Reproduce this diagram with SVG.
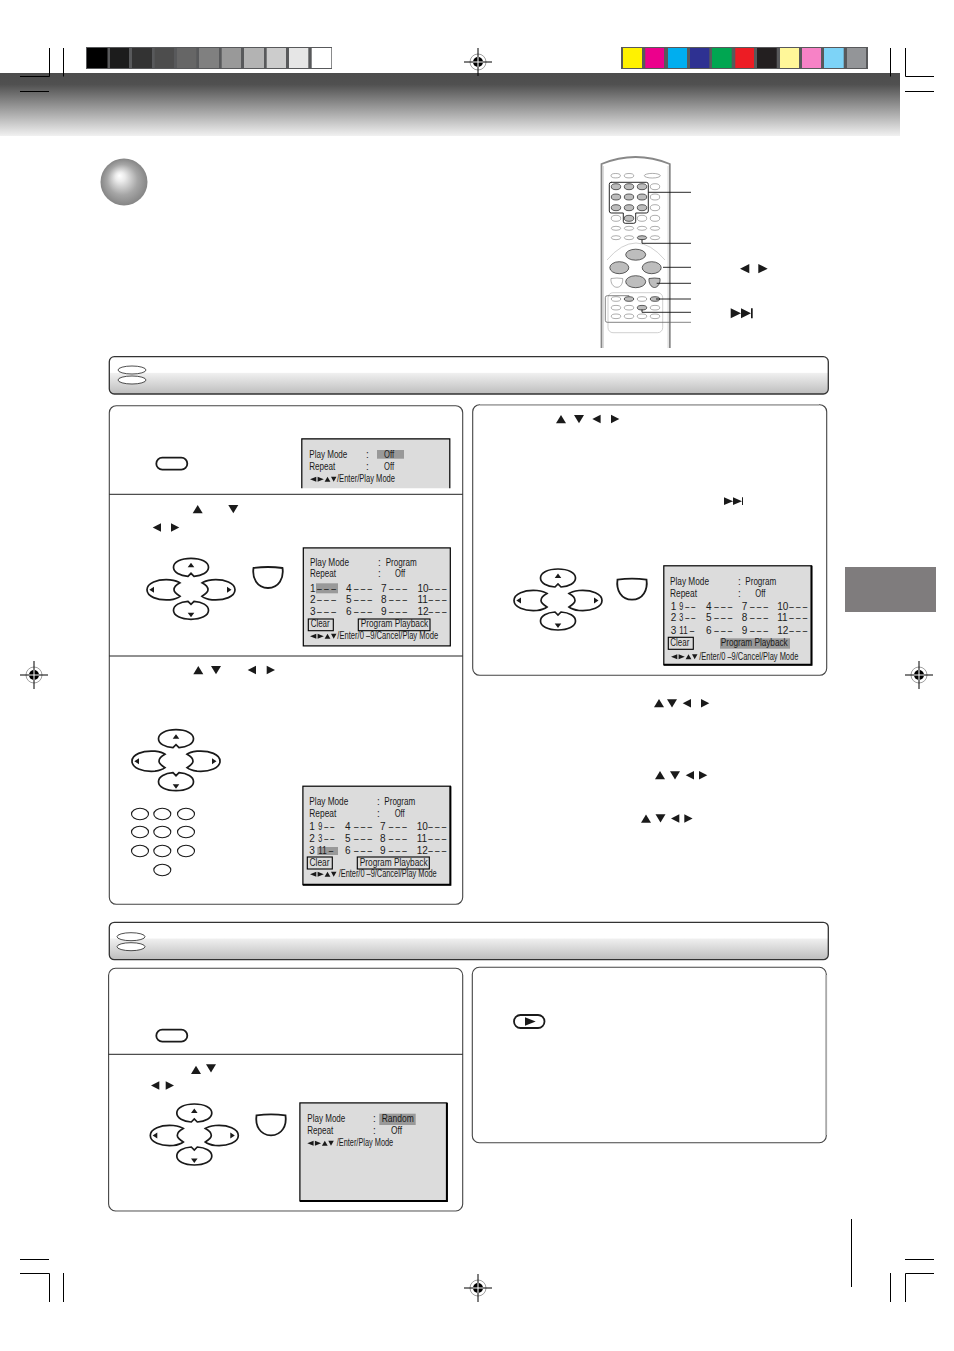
<svg xmlns="http://www.w3.org/2000/svg" width="954" height="1351" viewBox="0 0 954 1351">
<style>
text{font-family:"Liberation Sans",Arial,sans-serif;font-size:10px;fill:#1a1a1a}
.crop{stroke:#000;stroke-width:1;fill:none}
.panel{fill:#fff;stroke:#444;stroke-width:1.1}
.edge{fill:none;stroke:#aaa;stroke-width:1.6}
.div{stroke:#222;stroke-width:1;fill:none}
.bar{fill:url(#barGrad);stroke:#333;stroke-width:1.3}
.barOval{fill:#fff;stroke:#222;stroke-width:.8}
.screen{fill:#dcdcdc;stroke:#000;stroke-width:1.2}
.heavy{fill:none;stroke:#000;stroke-width:2}
.hl{fill:#999}
.box{fill:none;stroke:#000;stroke-width:1.1}
.tri{fill:#1a1a1a}
.btn{fill:#fff;stroke:#1a1a1a;stroke-width:1.8}
.pad{fill:#fff;stroke:#1a1a1a;stroke-width:1.7}
.num{fill:#fff;stroke:#1a1a1a;stroke-width:1.1}
.rw{fill:#fff;stroke:#777;stroke-width:.6}
.rg{fill:#bdbdbd;stroke:#222;stroke-width:.7}
.lead{stroke:#111;stroke-width:.9;fill:none}
.lead2{stroke:#666;stroke-width:.8;fill:none}
</style>
<defs>
<linearGradient id="bandGrad" x1="0" y1="0" x2="0" y2="1">
<stop offset="0" stop-color="#4d4d4d"/><stop offset=".18" stop-color="#505050"/><stop offset=".5" stop-color="#8f8f8f"/><stop offset="1" stop-color="#f1f1f1"/>
</linearGradient>
<linearGradient id="barGrad" x1="0" y1="0" x2="0" y2="1">
<stop offset="0" stop-color="#fff"/><stop offset=".42" stop-color="#fff"/><stop offset=".45" stop-color="#efefef"/><stop offset="1" stop-color="#bdbdbd"/>
</linearGradient>
<radialGradient id="ball" cx=".5" cy=".5" r=".5" fx=".4" fy=".36">
<stop offset="0" stop-color="#fff"/><stop offset=".2" stop-color="#ececec"/><stop offset=".65" stop-color="#a6a6a6"/><stop offset="1" stop-color="#858585"/>
</radialGradient>
<g id="reg">
<circle r="8" fill="#fff" stroke="#888" stroke-width=".8"/>
<circle r="5" fill="#000"/>
<path d="M-14 0H14M0-14V14" stroke="#000" stroke-width="1" fill="none"/>
<path d="M-5 0H5M0-5V5" stroke="#fff" stroke-width="1" fill="none"/>
</g>
<g id="dpad">
<path class="pad" d="M-3-13C-11-13.5-17.5-17-17.5-22C-17.5-27.5-10-31 0-31C10-31 17.5-27.5 17.5-22C17.5-17 11-13.5 3-13L0-16Z"/>
<path class="pad" d="M-3 12C-11 12.5-17.5 16-17.5 21C-17.5 26.5-10 30 0 30C10 30 17.5 26.5 17.5 21C17.5 16 11 12.5 3 12L0 15Z"/>
<path class="pad" d="M-21-9.5C-34-10.5-44-6-44 .5C-44 7-34 11.5-21 10.5C-17 10-13.500 9-11 7C-15 4.500-17 2.500-17 .5C-17-1.500-15-4.500-11-6.500C-13.500-8.500-17-9-21-9.500Z"/>
<path class="pad" d="M21-9.5C34-10.5 44-6 44 .5C44 7 34 11.5 21 10.5C17 10 13.500 9 11 7C15 4.500 17 2.500 17 .5C17-1.500 15-4.500 11-6.500C13.500-8.500 17-9 21-9.500Z"/>
<path d="M-3.300-22H3.300L0-26.500ZM-3.300 23.500H3.300L0 28ZM-37-2.500V3.500L-41.700 .5ZM36-2.500V3.500L40.500 .5Z" fill="#1a1a1a"/>
</g>
<path id="enter" class="btn" d="M-14.500 1.300Q0-.7 14.500 1.300C16 11.500 11 21.300 0 21.300C-11 21.300-16 11.500-14.500 1.300Z"/>
<g id="legend" class="tri">
<path d="M0 2.300 6.300-.2V4.800ZM7.600-.2 13.800 2.300 7.600 4.800ZM14.600 4.800 17.500-.2 20.400 4.800ZM21-.2H26.500L23.700 4.800Z"/>
</g>
<path id="up" d="M0 0 5-8.300 10 0Z"/>
<path id="down" d="M0 0H10L5 8.300Z"/>
<path id="left" d="M8.300-4.200V4.200L0 0Z"/>
<path id="right" d="M0-4.200V4.200L8.300 0Z"/>
</defs>
<rect width="954" height="1351" fill="#fff"/>

<g id="header-band"><rect x="0" y="73" width="900" height="63" fill="url(#bandGrad)"/></g>

<g id="gray-scale">
<rect x="86" y="47" width="246" height="22" fill="#58595b"/>
<rect x="87" y="48" width="20.500" height="20" fill="#000"/>
<rect x="110" y="48" width="19" height="20" fill="#1c1c1c"/>
<rect x="132" y="48" width="20" height="20" fill="#333"/>
<rect x="154.700" y="48" width="19.300" height="20" fill="#4d4d4d"/>
<rect x="177" y="48" width="19.300" height="20" fill="#666"/>
<rect x="199" y="48" width="20" height="20" fill="#808080"/>
<rect x="221.700" y="48" width="19.300" height="20" fill="#999"/>
<rect x="244" y="48" width="20" height="20" fill="#b3b3b3"/>
<rect x="266.700" y="48" width="19.300" height="20" fill="#ccc"/>
<rect x="289" y="48" width="19.300" height="20" fill="#e6e6e6"/>
<rect x="311.700" y="48" width="19.600" height="20" fill="#fff"/>
</g>
<g id="color-scale">
<rect x="621" y="47" width="247" height="22" fill="#58595b"/>
<rect x="623" y="48" width="19" height="20" fill="#fff200"/>
<rect x="645.300" y="48" width="18.700" height="20" fill="#ec008c"/>
<rect x="668" y="48" width="19" height="20" fill="#00aeef"/>
<rect x="690" y="48" width="19.300" height="20" fill="#2e3192"/>
<rect x="712" y="48" width="19.700" height="20" fill="#00a651"/>
<rect x="735.300" y="48" width="18.700" height="20" fill="#ed1c24"/>
<rect x="757" y="48" width="19.700" height="20" fill="#231f20"/>
<rect x="780" y="48" width="19" height="20" fill="#fff799"/>
<rect x="802" y="48" width="19" height="20" fill="#f782c6"/>
<rect x="824" y="48" width="19.700" height="20" fill="#7dd3f7"/>
<rect x="847" y="48" width="19" height="20" fill="#939598"/>
</g>

<g id="crop-marks">
<path class="crop" d="M49.500 48V76.500H20M63.500 48V76.500M20 91.500H49M890.500 48V76.500M905.500 48V76.500H934M905 91.500H934"/>
<path class="crop" d="M20 1259.500H49M20 1273.500H49.500V1302M63.500 1273V1302M905 1259.500H934M934 1273.500H905.500V1302M890.500 1273V1302"/>
<path class="crop" d="M851.500 1219V1287"/>
</g>
<use href="#reg" x="478" y="62"/>
<use href="#reg" x="34" y="675"/>
<use href="#reg" x="919" y="675"/>
<use href="#reg" x="478" y="1288"/>

<g id="side-tab"><rect x="845" y="567" width="91" height="45" fill="#7f7c7d"/></g>
<g id="ball-bullet"><circle cx="124" cy="182" r="23.500" fill="url(#ball)"/></g>

<g id="remote">
<path d="M601.500 348V164Q635.500 150 669.800 164V348" fill="#fff" stroke="#888" stroke-width="1.800"/>
<path d="M603.500 348V166M668 348V166" stroke="#ccc" stroke-width=".7" fill="none"/>
<path d="M607 260Q636 226 665 260" fill="none" stroke="#bbb" stroke-width=".7"/>
<rect x="608" y="292.700" width="54.700" height="40" rx="5" fill="#fff" stroke="#bbb" stroke-width=".7"/>
<ellipse class="rw" cx="615.700" cy="175.700" rx="4.700" ry="2.200"/><ellipse class="rw" cx="629" cy="175.700" rx="4.700" ry="2.200"/><ellipse class="rw" cx="652.300" cy="175.700" rx="8" ry="2.300"/>
<ellipse class="rg" cx="616" cy="186.700" rx="4.700" ry="3"/><ellipse class="rg" cx="629" cy="186.700" rx="4.700" ry="3"/><ellipse class="rg" cx="642" cy="186.700" rx="4.700" ry="3"/><ellipse class="rw" cx="655" cy="186.700" rx="4.700" ry="3"/>
<ellipse class="rg" cx="616" cy="197" rx="4.700" ry="3"/><ellipse class="rg" cx="629" cy="197" rx="4.700" ry="3"/><ellipse class="rg" cx="642" cy="197" rx="4.700" ry="3"/><ellipse class="rw" cx="655" cy="197" rx="4.700" ry="3"/>
<ellipse class="rg" cx="616" cy="207.700" rx="4.700" ry="3"/><ellipse class="rg" cx="629" cy="207.700" rx="4.700" ry="3"/><ellipse class="rg" cx="642" cy="207.700" rx="4.700" ry="3"/><ellipse class="rw" cx="655" cy="207.700" rx="4.700" ry="3"/>
<ellipse class="rw" cx="616" cy="218.300" rx="4.700" ry="3"/><ellipse class="rg" cx="629" cy="218.300" rx="4.700" ry="3"/><ellipse class="rw" cx="642" cy="218.300" rx="4.700" ry="3"/><ellipse class="rw" cx="655" cy="218.300" rx="4.700" ry="3"/>
<ellipse class="rw" cx="616" cy="228.300" rx="4.700" ry="2"/><ellipse class="rw" cx="629" cy="228.300" rx="4.700" ry="2"/><ellipse class="rw" cx="642" cy="228.300" rx="4.700" ry="2"/><ellipse class="rw" cx="655" cy="228.300" rx="4.700" ry="2"/>
<ellipse class="rw" cx="616" cy="237.700" rx="4.700" ry="2"/><ellipse class="rw" cx="629" cy="237.700" rx="4.700" ry="2"/><ellipse class="rg" cx="642" cy="237.700" rx="4.700" ry="2"/><ellipse class="rw" cx="655" cy="237.700" rx="4.700" ry="2"/>
<ellipse class="rg" cx="635.700" cy="254.700" rx="10" ry="5.500"/>
<ellipse class="rg" cx="619.300" cy="267.700" rx="9.500" ry="6"/><ellipse class="rg" cx="651.700" cy="267.700" rx="9.500" ry="6"/>
<ellipse class="rg" cx="635.700" cy="281.700" rx="10" ry="6"/>
<path class="rw" d="M611 278.500Q617 277.500 622.700 278.500C623 283 621 287.300 617 287.300C613 287.300 610.500 283 611 278.500Z"/>
<path class="rg" d="M649 278.500Q654.500 277.500 660 278.500C660.500 283 658 287.500 654.500 287.500C651 287.500 648.500 283 649 278.500Z"/>
<ellipse class="rw" cx="616" cy="299" rx="4.700" ry="2.300"/><ellipse class="rg" cx="629" cy="299" rx="4.700" ry="2.300"/><ellipse class="rw" cx="642" cy="299" rx="4.700" ry="2.300"/><ellipse class="rg" cx="655" cy="299" rx="4.700" ry="2.300"/>
<ellipse class="rw" cx="616" cy="307.700" rx="4.700" ry="2.300"/><ellipse class="rw" cx="629" cy="307.700" rx="4.700" ry="2.300"/><ellipse class="rg" cx="642" cy="307.700" rx="4.700" ry="2.300"/><ellipse class="rw" cx="655" cy="307.700" rx="4.700" ry="2.300"/>
<ellipse class="rw" cx="616" cy="316.300" rx="4.700" ry="2.300"/><ellipse class="rw" cx="629" cy="316.300" rx="4.700" ry="2.300"/><ellipse class="rw" cx="642" cy="316.300" rx="4.700" ry="2.300"/><ellipse class="rw" cx="655" cy="316.300" rx="4.700" ry="2.300"/>
</g>
<g id="remote-connectors">
<path class="lead" d="M611 182.300H646.300Q648.300 182.300 648.300 184.300V211Q648.300 213 646.300 213H635.700V221.300Q635.700 223.300 633.700 223.300H625.300Q623.300 223.300 623.300 221.300V213H611.300Q609.300 213 609.300 211V184.300Q609.300 182.300 611.300 182.300Z"/>
<path class="lead" d="M648.300 192.300H691M642 239.500V243.300H691M663 267.300H691M656.700 283.300H691M656 299H691M642 309.500V312.300H691"/>
<path class="lead2" d="M629 297V295.700H607.300Q605.300 295.700 605.300 297.700V320.300Q605.300 322.300 607.300 322.300H691"/>
</g>
<g id="remote-symbols" class="tri">
<path d="M749.300 264V273.300L740 268.700ZM758.300 264V273.300L767.700 268.700Z"/>
<path d="M730.700 308.300V318.300L741 313.300ZM741 308.300V318.300L751 313.300ZM751 308.300H752.700V318.300H751Z"/>
</g>

<g id="section-bar-1">
<rect class="bar" x="109.300" y="356.700" width="719" height="37.300" rx="5"/>
<ellipse class="barOval" cx="132" cy="370" rx="14" ry="4"/><ellipse class="barOval" cx="132" cy="380" rx="14" ry="4"/>
</g>

<g id="panel-program-left">
<rect class="panel" x="109.300" y="405.700" width="353.400" height="498.600" rx="7"/>
<path class="div" d="M109.300 494.300H462.700M109.300 656H462.700"/>
</g>

<g id="step-1">
<rect class="btn" x="156.300" y="457.700" width="31" height="12" rx="6"/>
<path d="M301.800 488.300V438.800H449.800V488.300" fill="#dcdcdc" stroke="#000" stroke-width="1.200"/>
<rect class="hl" x="377" y="450" width="27" height="8.700"/>
<text x="309.300" y="457.500" textLength="38" lengthAdjust="spacingAndGlyphs">Play Mode</text><text x="366" y="457.500">:</text><text x="384" y="457.500" textLength="10" lengthAdjust="spacingAndGlyphs">Off</text>
<text x="309.300" y="470" textLength="26" lengthAdjust="spacingAndGlyphs">Repeat</text><text x="366" y="470">:</text><text x="384" y="470" textLength="10" lengthAdjust="spacingAndGlyphs">Off</text>
<use href="#legend" x="310" y="477"/><text x="337" y="482" textLength="58" lengthAdjust="spacingAndGlyphs">/Enter/Play Mode</text>
</g>

<g id="step-2">
<use href="#up" class="tri" x="192.700" y="513.300"/><use href="#down" class="tri" x="228.300" y="505"/>
<use href="#left" class="tri" x="152.700" y="527.500"/><use href="#right" class="tri" x="171" y="527.500"/>
<use href="#dpad" x="191" y="589.300"/>
<use href="#enter" x="268" y="566.700"/>
<rect class="screen" x="303.300" y="547.900" width="147" height="98"/>
<rect class="hl" x="316" y="583.300" width="22" height="10"/>
<text x="310" y="565.700" textLength="39" lengthAdjust="spacingAndGlyphs">Play Mode</text><text x="378" y="565.700">:</text><text x="385.700" y="565.700" textLength="31" lengthAdjust="spacingAndGlyphs">Program</text>
<text x="310" y="577" textLength="26" lengthAdjust="spacingAndGlyphs">Repeat</text><text x="378" y="577">:</text><text x="395" y="577" textLength="10" lengthAdjust="spacingAndGlyphs">Off</text>
<text x="310" y="591.700">1</text><text x="317" y="591.700" textLength="19" lengthAdjust="spacingAndGlyphs">– – –</text>
<text x="346" y="591.700">4</text><text x="354" y="591.700" textLength="18" lengthAdjust="spacingAndGlyphs">– – –</text>
<text x="381" y="591.700">7</text><text x="389" y="591.700" textLength="18" lengthAdjust="spacingAndGlyphs">– – –</text>
<text x="417.500" y="591.700">10</text><text x="428.500" y="591.700" textLength="18" lengthAdjust="spacingAndGlyphs">– – –</text>
<text x="310" y="603.300">2</text><text x="317" y="603.300" textLength="19" lengthAdjust="spacingAndGlyphs">– – –</text>
<text x="346" y="603.300">5</text><text x="354" y="603.300" textLength="18" lengthAdjust="spacingAndGlyphs">– – –</text>
<text x="381" y="603.300">8</text><text x="389" y="603.300" textLength="18" lengthAdjust="spacingAndGlyphs">– – –</text>
<text x="417.500" y="603.300">11</text><text x="428.500" y="603.300" textLength="18" lengthAdjust="spacingAndGlyphs">– – –</text>
<text x="310" y="615">3</text><text x="317" y="615" textLength="19" lengthAdjust="spacingAndGlyphs">– – –</text>
<text x="346" y="615">6</text><text x="354" y="615" textLength="18" lengthAdjust="spacingAndGlyphs">– – –</text>
<text x="381" y="615">9</text><text x="389" y="615" textLength="18" lengthAdjust="spacingAndGlyphs">– – –</text>
<text x="417.500" y="615">12</text><text x="428.500" y="615" textLength="18" lengthAdjust="spacingAndGlyphs">– – –</text>
<rect class="box" x="308.300" y="619" width="25" height="11.700"/><text x="310.700" y="627" textLength="19" lengthAdjust="spacingAndGlyphs">Clear</text>
<rect class="box" x="358.300" y="619" width="71.700" height="11.700"/><text x="360.700" y="627.300" textLength="67.500" lengthAdjust="spacingAndGlyphs">Program Playback</text>
<use href="#legend" x="310" y="634"/><text x="337.300" y="639" textLength="101" lengthAdjust="spacingAndGlyphs">/Enter/0 –9/Cancel/Play Mode</text>
</g>

<g id="step-3">
<use href="#up" class="tri" x="193.300" y="674.300"/><use href="#down" class="tri" x="211" y="666"/>
<use href="#left" class="tri" x="247.700" y="670"/><use href="#right" class="tri" x="266.700" y="670"/>
<use href="#dpad" x="176" y="760.700"/>
<ellipse class="num" cx="140" cy="814" rx="8.500" ry="5.700"/><ellipse class="num" cx="162.300" cy="814" rx="8.500" ry="5.700"/><ellipse class="num" cx="186" cy="814" rx="8.500" ry="5.700"/>
<ellipse class="num" cx="140" cy="832" rx="8.500" ry="5.700"/><ellipse class="num" cx="162.300" cy="832" rx="8.500" ry="5.700"/><ellipse class="num" cx="186" cy="832" rx="8.500" ry="5.700"/>
<ellipse class="num" cx="140" cy="851" rx="8.500" ry="5.700"/><ellipse class="num" cx="162.300" cy="851" rx="8.500" ry="5.700"/><ellipse class="num" cx="186" cy="851" rx="8.500" ry="5.700"/>
<ellipse class="num" cx="162.300" cy="870" rx="8.500" ry="5.700"/>
<rect class="screen" x="302.900" y="786.200" width="147.500" height="98.500"/>
<path class="heavy" d="M450.400 786.200V884.700H302.900"/>
<rect class="hl" x="317.300" y="847" width="20.700" height="8"/>
<text x="309.300" y="805" textLength="39" lengthAdjust="spacingAndGlyphs">Play Mode</text><text x="377" y="805">:</text><text x="384.300" y="805" textLength="31" lengthAdjust="spacingAndGlyphs">Program</text>
<text x="309.300" y="817" textLength="27" lengthAdjust="spacingAndGlyphs">Repeat</text><text x="377" y="817">:</text><text x="394.700" y="817" textLength="10" lengthAdjust="spacingAndGlyphs">Off</text>
<text x="309.300" y="830">1</text><text x="318.300" y="830" textLength="16" lengthAdjust="spacingAndGlyphs">9 – –</text>
<text x="345" y="830">4</text><text x="354" y="830" textLength="18" lengthAdjust="spacingAndGlyphs">– – –</text>
<text x="380" y="830">7</text><text x="388.700" y="830" textLength="18" lengthAdjust="spacingAndGlyphs">– – –</text>
<text x="416.700" y="830">10</text><text x="428.300" y="830" textLength="18" lengthAdjust="spacingAndGlyphs">– – –</text>
<text x="309.300" y="841.500">2</text><text x="318.300" y="841.500" textLength="16" lengthAdjust="spacingAndGlyphs">3 – –</text>
<text x="345" y="841.500">5</text><text x="354" y="841.500" textLength="18" lengthAdjust="spacingAndGlyphs">– – –</text>
<text x="380" y="841.500">8</text><text x="388.700" y="841.500" textLength="18" lengthAdjust="spacingAndGlyphs">– – –</text>
<text x="416.700" y="841.500">11</text><text x="428.300" y="841.500" textLength="18" lengthAdjust="spacingAndGlyphs">– – –</text>
<text x="309.300" y="854">3</text><text x="318.300" y="854" textLength="15" lengthAdjust="spacingAndGlyphs">11 –</text>
<text x="345" y="854">6</text><text x="354" y="854" textLength="18" lengthAdjust="spacingAndGlyphs">– – –</text>
<text x="380" y="854">9</text><text x="388.700" y="854" textLength="18" lengthAdjust="spacingAndGlyphs">– – –</text>
<text x="416.700" y="854">12</text><text x="428.300" y="854" textLength="18" lengthAdjust="spacingAndGlyphs">– – –</text>
<rect class="box" x="307.300" y="857" width="25" height="12"/><text x="309.500" y="865.500" textLength="20" lengthAdjust="spacingAndGlyphs">Clear</text>
<rect class="box" x="357.300" y="857" width="72" height="12"/><text x="359.700" y="866" textLength="68" lengthAdjust="spacingAndGlyphs">Program Playback</text>
<use href="#legend" x="310" y="872"/><text x="338.700" y="877" textLength="98" lengthAdjust="spacingAndGlyphs">/Enter/0 –9/Cancel/Play Mode</text>
</g>

<g id="panel-step-4">
<rect class="panel" x="472.700" y="404.700" width="354" height="270.600" rx="7"/>
<path class="edge" d="M480 404.700H819"/>
<use href="#up" class="tri" x="556" y="423.300"/><use href="#down" class="tri" x="574" y="415"/>
<use href="#left" class="tri" x="592.300" y="419"/><use href="#right" class="tri" x="611" y="419"/>
<path class="tri" d="M724 497.300V505L733 501.200ZM733 497.300V505L742 501.200ZM742 497.300H743V505H742Z"/>
<use href="#dpad" x="558" y="600"/>
<use href="#enter" x="632" y="578.300"/>
<rect class="screen" x="663.800" y="565.800" width="147.700" height="99"/>
<path class="heavy" d="M811.500 565.800V664.800H663.800"/>
<rect class="hl" x="720" y="638.300" width="70" height="10.400"/>
<text x="670" y="585" textLength="39" lengthAdjust="spacingAndGlyphs">Play Mode</text><text x="738" y="585">:</text><text x="745.300" y="585" textLength="31" lengthAdjust="spacingAndGlyphs">Program</text>
<text x="670" y="597" textLength="27" lengthAdjust="spacingAndGlyphs">Repeat</text><text x="738" y="597">:</text><text x="755.300" y="597" textLength="10" lengthAdjust="spacingAndGlyphs">Off</text>
<text x="670.700" y="609.500">1</text><text x="679.300" y="609.500" textLength="16" lengthAdjust="spacingAndGlyphs">9 – –</text>
<text x="706" y="609.500">4</text><text x="714.300" y="609.500" textLength="18" lengthAdjust="spacingAndGlyphs">– – –</text>
<text x="741.700" y="609.500">7</text><text x="750" y="609.500" textLength="18" lengthAdjust="spacingAndGlyphs">– – –</text>
<text x="777.300" y="609.500">10</text><text x="789.300" y="609.500" textLength="18" lengthAdjust="spacingAndGlyphs">– – –</text>
<text x="670.700" y="621">2</text><text x="679.300" y="621" textLength="16" lengthAdjust="spacingAndGlyphs">3 – –</text>
<text x="706" y="621">5</text><text x="714.300" y="621" textLength="18" lengthAdjust="spacingAndGlyphs">– – –</text>
<text x="741.700" y="621">8</text><text x="750" y="621" textLength="18" lengthAdjust="spacingAndGlyphs">– – –</text>
<text x="777.300" y="621">11</text><text x="789.300" y="621" textLength="18" lengthAdjust="spacingAndGlyphs">– – –</text>
<text x="670.700" y="634">3</text><text x="679.300" y="634" textLength="15" lengthAdjust="spacingAndGlyphs">11 –</text>
<text x="706" y="634">6</text><text x="714.300" y="634" textLength="18" lengthAdjust="spacingAndGlyphs">– – –</text>
<text x="741.700" y="634">9</text><text x="750" y="634" textLength="18" lengthAdjust="spacingAndGlyphs">– – –</text>
<text x="777.300" y="634">12</text><text x="789.300" y="634" textLength="18" lengthAdjust="spacingAndGlyphs">– – –</text>
<rect class="box" x="668.300" y="637.300" width="25" height="12"/><text x="670.300" y="645.500" textLength="19" lengthAdjust="spacingAndGlyphs">Clear</text>
<text x="720.700" y="646" textLength="67" lengthAdjust="spacingAndGlyphs">Program Playback</text>
<use href="#legend" x="671" y="654.500"/><text x="699.300" y="659.500" textLength="99" lengthAdjust="spacingAndGlyphs">/Enter/0 –9/Cancel/Play Mode</text>
</g>

<g id="note-symbols">
<use href="#up" class="tri" x="654" y="707.300"/><use href="#down" class="tri" x="667" y="699.300"/><use href="#left" class="tri" x="682.700" y="703.300"/><use href="#right" class="tri" x="701" y="703.300"/>
<use href="#up" class="tri" x="655" y="779.300"/><use href="#down" class="tri" x="670" y="771.300"/><use href="#left" class="tri" x="685.700" y="775.300"/><use href="#right" class="tri" x="699" y="775.300"/>
<use href="#up" class="tri" x="641" y="822.700"/><use href="#down" class="tri" x="655.500" y="814.300"/><use href="#left" class="tri" x="671" y="818.500"/><use href="#right" class="tri" x="684.300" y="818.500"/>
</g>

<g id="section-bar-2">
<rect class="bar" x="109.300" y="922.300" width="719" height="37.400" rx="5"/>
<ellipse class="barOval" cx="131" cy="936.700" rx="14" ry="4"/><ellipse class="barOval" cx="131" cy="946.700" rx="14" ry="4"/>
</g>

<g id="panel-random">
<rect class="panel" x="108.600" y="968.300" width="354.100" height="242.700" rx="7"/>
<path class="edge" d="M116 1211.300H456"/>
<path class="div" d="M108.600 1054.300H462.700"/>
<rect class="btn" x="156.300" y="1029.700" width="31" height="12" rx="6"/>
<use href="#up" class="tri" x="191" y="1074"/><use href="#down" class="tri" x="206" y="1064.300"/>
<use href="#left" class="tri" x="151" y="1085.500"/><use href="#right" class="tri" x="165.700" y="1085.500"/>
<use href="#dpad" x="194.300" y="1135"/>
<use href="#enter" x="271" y="1114"/>
<rect class="screen" x="299.900" y="1102.900" width="147" height="98"/>
<path class="heavy" d="M446.900 1102.900V1200.900H299.900"/>
<rect class="hl" x="379.300" y="1113.700" width="36.400" height="11.300"/>
<text x="307.300" y="1121.700" textLength="38" lengthAdjust="spacingAndGlyphs">Play Mode</text><text x="373" y="1121.700">:</text><text x="381.700" y="1121.700" textLength="32" lengthAdjust="spacingAndGlyphs">Random</text>
<text x="307.300" y="1133.500" textLength="26" lengthAdjust="spacingAndGlyphs">Repeat</text><text x="373" y="1133.500">:</text><text x="391" y="1133.500" textLength="11" lengthAdjust="spacingAndGlyphs">Off</text>
<use href="#legend" x="307.300" y="1141"/><text x="336.700" y="1146" textLength="56.500" lengthAdjust="spacingAndGlyphs">/Enter/Play Mode</text>
</g>

<g id="panel-play">
<rect class="panel" x="472.300" y="967.300" width="354" height="175.400" rx="7"/>
<path class="edge" d="M826.300 975V1135"/>
<rect class="btn" x="514" y="1015" width="30.500" height="13" rx="6.500"/>
<path class="tri" d="M525 1017.300V1025.700L535.700 1021.500Z"/>
</g>
</svg>
